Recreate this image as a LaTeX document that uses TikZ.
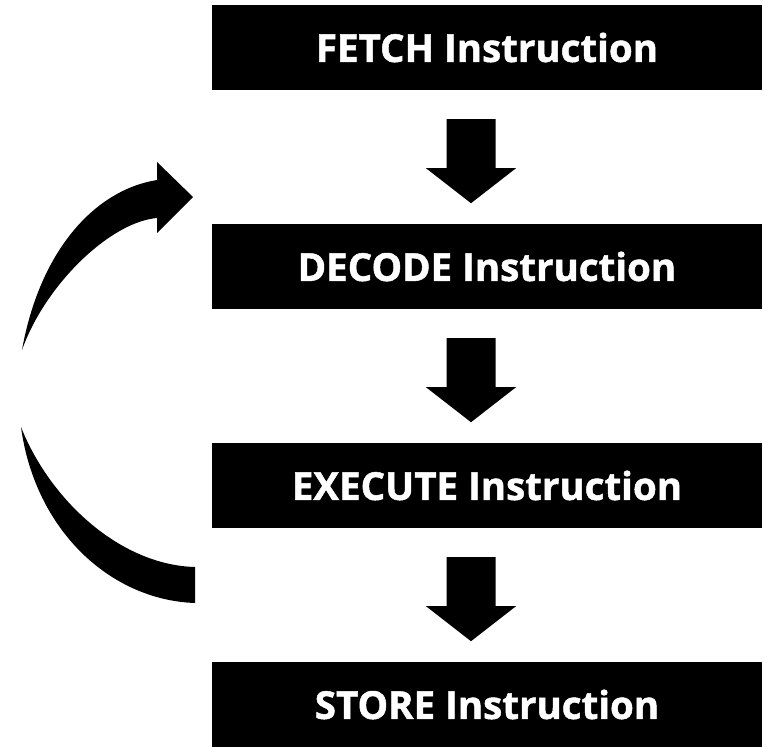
\documentclass[tikz,border=0pt]{standalone}
\usepackage{fontspec}
\setmainfont{Open Sans}[BoldFeatures={FakeBold=1.3}]
\usetikzlibrary{calc}

\tikzset{
  stagebox/.style={fill=black, text=white, minimum width=550pt, minimum height=85pt,
    inner sep=0pt, font=\bfseries\fontsize{38.5}{42}\selectfont},
  blockarrow/.pic={
    \fill (-24.5,0) -- (24.5,0) -- (24.5,49) -- (45,49) -- (0,84)
          -- (-45,49) -- (-24.5,49) -- cycle;
  }
}

\begin{document}
\begin{tikzpicture}[x=1pt, y=-1pt]
  \useasboundingbox (0,0) rectangle (765,747);

  % the four stages of the instruction cycle
  \node[stagebox] (fetch)   at (487,47.5)  {FETCH Instruction};
  \node[stagebox] (decode)  at (487,266.5) {DECODE Instruction};
  \node[stagebox] (execute) at (487,485.5) {EXECUTE Instruction};
  \node[stagebox] (store)   at (487,704.5) {STORE Instruction};

  % block arrows between consecutive stages
  \pic at ($(fetch.south)+(-16,29)$)   {blockarrow};
  \pic at ($(decode.south)+(-16,29)$)  {blockarrow};
  \pic at ($(execute.south)+(-16,29)$) {blockarrow};

  % curved return arrow: lower sweep leaving EXECUTE
  \fill (195,567) .. controls (120,565) and (50,500) .. (21,427)
        .. controls (35,530) and (110,600) .. (195,603) -- cycle;

  % curved return arrow: upper sweep with head pointing back to DECODE
  \fill (22,350) .. controls (40,250) and (95,190) .. (157,180)
        -- (157,162) -- (193,197) -- (157,233) -- (157,218)
        .. controls (110,222) and (45,285) .. (22,350) -- cycle;
\end{tikzpicture}
\end{document}
